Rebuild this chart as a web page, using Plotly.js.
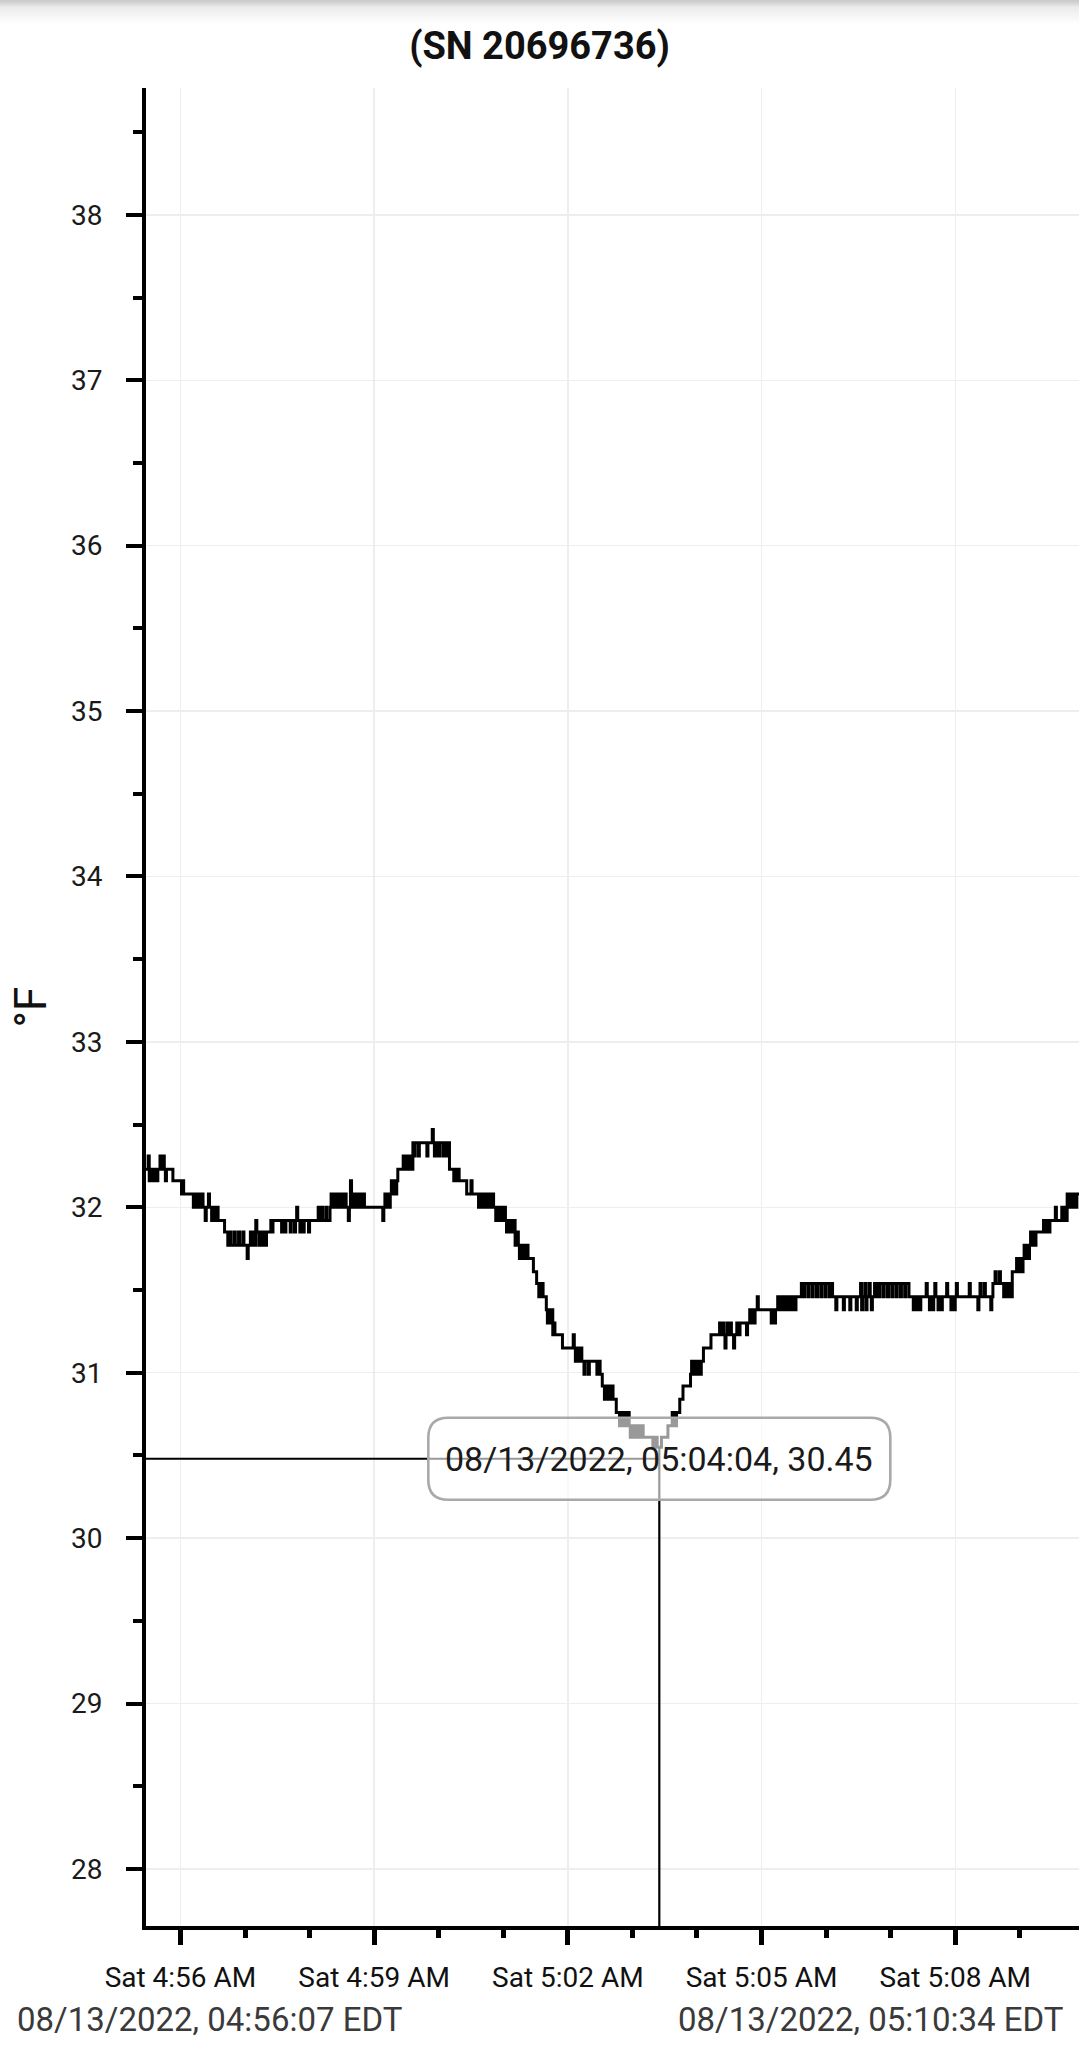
<!DOCTYPE html>
<html><head><meta charset="utf-8">
<script src="https://cdn.plot.ly/plotly-3.0.1.min.js"></script>
<style>
html,body{margin:0;padding:0;background:#fff;width:1079px;height:2055px;overflow:hidden}
#chart{width:1079px;height:2055px}
#shade{position:absolute;left:0;top:0;width:1079px;height:24px;background:linear-gradient(#c9c9c9 0px,#d4d4d4 3px,#ebebeb 7px,#ffffff 24px);pointer-events:none}
</style></head><body>
<div id="chart"></div><div id="shade"></div>
<script>
// ---- data ----
const chartTitle = '(SN 20696736)';
const yAxisTitle = '°F';
const startTime = '2022-08-13 04:56:07';
const endTime = '2022-08-13 05:10:34';
const startLabel = '08/13/2022, 04:56:07 EDT';
const endLabel = '08/13/2022, 05:10:34 EDT';
const xTickVals = ['2022-08-13 04:56:39','2022-08-13 04:59:39','2022-08-13 05:02:39','2022-08-13 05:05:39','2022-08-13 05:08:39'];
const xTickText = ['Sat 4:56 AM','Sat 4:59 AM','Sat 5:02 AM','Sat 5:05 AM','Sat 5:08 AM'];
const yTickVals = [28,29,30,31,32,33,34,35,36,37,38];
const yRange = [27.655, 38.767];
const hoverTime = '2022-08-13 05:04:04';
const hoverSecond = 477;
const hoverValue = 30.45;
const hoverText = '08/13/2022, 05:04:04, 30.45';
const crosshairY = 30.48;

// seconds after 04:56:07 (EDT) at which the reading changes
const secondsFromStart = [
0,2,3,5,6,8,9,11,13,14,
16,17,18,19,25,33,34,35,44,45,
47,48,50,52,53,55,56,58,59,61,
62,64,65,67,73,76,78,79,82,83,
86,87,90,91,94,95,97,98,100,101,
102,103,105,106,108,109,111,112,116,117,
118,126,127,129,130,134,135,138,139,140,
141,143,144,146,147,151,152,160,161,163,
164,167,168,171,172,173,175,176,178,179,
181,183,184,186,188,189,190,191,193,195,
197,199,201,203,220,221,222,223,225,226,
227,228,229,231,232,233,234,239,240,242,
243,245,247,248,249,250,253,254,261,262,
266,267,268,269,270,271,272,273,276,277,
279,280,282,286,287,289,290,291,298,302,
303,309,310,312,313,314,316,317,318,320,
321,323,325,326,328,329,331,332,334,335,
336,338,339,341,342,343,344,346,347,348,
350,351,353,354,355,360,363,365,366,367,
368,369,372,373,374,376,377,378,379,380,
387,397,398,399,400,402,403,405,407,408,
411,412,419,420,422,424,426,427,429,430,
432,433,434,437,440,441,443,444,446,447,
449,450,451,453,454,456,457,459,460,462,
471,473,475,479,485,489,490,491,492,493,
496,499,506,507,508,510,511,513,514,516,
518,525,533,534,536,537,538,539,540,541,
543,544,546,547,549,550,552,558,559,561,
562,564,565,566,568,569,581,582,584,585,
587,588,590,591,593,594,596,597,599,600,
602,603,604,609,611,612,615,616,619,620,
623,624,627,628,631,632,635,636,638,641,
642,648,649,654,655,660,661,664,665,666,
668,669,670,672,673,674,675,677,678,680,
681,682,685,686,689,690,693,694,697,698,
701,702,705,706,709,713,714,716,717,719,
720,725,726,728,729,731,732,733,734,736,
737,739,740,744,745,748,749,751,752,753,
754,765,766,773,774,775,776,779,780,785,
786,787,789,790,793,794,797,798,800,801,
803,805,809,810,812,813,815,816,817,819,
820,821,822,823,825,826,827,834,835,837,
838,840,845,846,851,852,853,854,856,857,
859,860,862,863,865,867
];

// temperature in °F from each of those seconds on
const tempF = [
32.23,32.31,32.16,32.23,32.16,32.23,32.16,32.23,32.31,32.23,
32.31,32.23,32.16,32.23,32.16,32.08,32.16,32.08,32.00,32.08,
32.00,32.08,32.00,32.08,32.00,31.92,32.00,32.08,32.00,31.92,
32.00,31.92,32.00,31.92,31.85,31.77,31.85,31.77,31.85,31.77,
31.85,31.77,31.85,31.77,31.69,31.77,31.85,31.77,31.85,31.77,
31.92,31.85,31.77,31.85,31.77,31.85,31.77,31.85,31.92,31.85,
31.92,31.85,31.92,31.85,31.92,31.85,31.92,31.85,31.92,32.00,
31.92,31.85,31.92,31.85,31.92,31.85,31.92,32.00,31.92,32.00,
31.92,32.00,31.92,32.00,32.08,32.00,32.08,32.00,32.08,32.00,
32.08,32.00,32.08,32.00,31.92,32.00,32.16,32.00,32.08,32.00,
32.08,32.00,32.08,32.00,31.92,32.00,32.08,32.00,32.08,32.00,
32.08,32.16,32.08,32.16,32.08,32.16,32.23,32.31,32.23,32.31,
32.23,32.31,32.23,32.39,32.31,32.39,32.31,32.39,32.31,32.39,
32.47,32.39,32.31,32.39,32.31,32.39,32.31,32.39,32.31,32.39,
32.31,32.39,32.23,32.16,32.23,32.16,32.23,32.16,32.08,32.16,
32.08,32.00,32.08,32.00,32.08,32.00,32.08,32.00,32.08,32.00,
32.08,32.00,31.92,32.00,31.92,32.00,31.92,32.00,31.92,31.85,
31.92,31.85,31.92,31.85,31.92,31.77,31.85,31.77,31.69,31.77,
31.69,31.77,31.69,31.77,31.69,31.61,31.54,31.46,31.54,31.46,
31.54,31.46,31.38,31.30,31.38,31.30,31.38,31.23,31.30,31.23,
31.15,31.23,31.15,31.07,31.15,31.07,31.15,31.07,30.99,31.07,
30.99,31.07,30.99,31.07,30.99,30.92,30.84,30.92,30.84,30.92,
30.84,30.92,30.84,30.76,30.68,30.76,30.68,30.76,30.68,30.76,
30.68,30.61,30.68,30.61,30.68,30.61,30.68,30.61,30.68,30.61,
30.55,30.61,30.55,30.61,30.68,30.76,30.68,30.76,30.68,30.76,
30.84,30.92,30.99,31.07,30.99,31.07,30.99,31.07,30.99,31.07,
31.15,31.23,31.30,31.23,31.30,31.23,31.15,31.23,31.30,31.23,
31.30,31.23,31.15,31.23,31.30,31.23,31.30,31.23,31.30,31.38,
31.30,31.38,31.30,31.38,31.46,31.38,31.30,31.38,31.30,31.38,
31.46,31.38,31.46,31.38,31.46,31.38,31.46,31.38,31.46,31.38,
31.46,31.38,31.46,31.54,31.46,31.54,31.46,31.54,31.46,31.54,
31.46,31.54,31.46,31.54,31.46,31.54,31.46,31.54,31.46,31.38,
31.46,31.38,31.46,31.38,31.46,31.38,31.46,31.54,31.38,31.46,
31.54,31.38,31.46,31.54,31.46,31.38,31.46,31.54,31.46,31.54,
31.46,31.54,31.46,31.54,31.46,31.54,31.46,31.54,31.46,31.54,
31.46,31.54,31.46,31.54,31.46,31.38,31.46,31.38,31.46,31.38,
31.46,31.54,31.46,31.38,31.46,31.38,31.46,31.54,31.46,31.38,
31.46,31.38,31.46,31.54,31.46,31.38,31.46,31.38,31.46,31.54,
31.46,31.54,31.46,31.38,31.46,31.54,31.46,31.54,31.46,31.38,
31.46,31.54,31.61,31.54,31.61,31.54,31.46,31.54,31.46,31.54,
31.46,31.61,31.69,31.61,31.69,31.61,31.69,31.77,31.69,31.77,
31.69,31.77,31.85,31.77,31.85,31.77,31.85,31.92,31.85,31.92,
31.85,31.92,32.00,31.92,32.00,31.92,32.00,31.92,32.08,32.00,
32.08,32.00,32.08,32.00,32.08,32.08
];

// ---- build ----
const baseMs = Date.UTC(2022, 7, 13, 4, 56, 7);
const xTimes = secondsFromStart.map(s => baseMs + s * 1000);

let hoverPointValue = tempF[0];
for (let i = 0; i < secondsFromStart.length; i++) {
  if (secondsFromStart[i] <= hoverSecond) hoverPointValue = tempF[i];
}

// page geometry (pixels)
const W = 1079, H = 2055;
const M = {l: 146, r: 0, t: 88, b: 129};
const plotW = W - M.l - M.r, plotH = H - M.t - M.b;
const px2paperX = px => (px - M.l) / plotW;
const px2paperY = py => (H - M.b - py) / plotH;

const FONT = 'Roboto, "Noto Sans", sans-serif';

const trace = {
  type: 'scatter', mode: 'lines',
  x: xTimes, y: tempF,
  line: {color: '#000000', width: 3, shape: 'hv'},
  hoverinfo: 'skip'
};

const w2 = 231, h2 = 41, r = 20;
const boxPath = `M ${-w2 + r},${-h2} L ${w2 - r},${-h2} Q ${w2},${-h2} ${w2},${-h2 + r} L ${w2},${h2 - r} Q ${w2},${h2} ${w2 - r},${h2} L ${-w2 + r},${h2} Q ${-w2},${h2} ${-w2},${h2 - r} L ${-w2},${-h2 + r} Q ${-w2},${-h2} ${-w2 + r},${-h2} Z`;

const layout = {
  width: W, height: H,
  margin: M,
  paper_bgcolor: '#ffffff', plot_bgcolor: '#ffffff',
  showlegend: false,
  hovermode: false,
  font: {family: FONT, color: '#111111'},
  title: {
    text: chartTitle,
    font: {family: FONT, size: 38, weight: 700, color: '#111111'},
    x: 0.5, xref: 'container', xanchor: 'center',
    y: 1 - 46 / H, yref: 'container', yanchor: 'middle'
  },
  xaxis: {
    type: 'date',
    range: [startTime, endTime],
    tickmode: 'array', tickvals: xTickVals, ticktext: xTickText,
    showline: true, linecolor: '#000000', linewidth: 4,
    ticks: 'outside', ticklen: 15, tickwidth: 5, tickcolor: '#000000',
    showgrid: true, gridcolor: '#eeeeee', gridwidth: 1.5,
    zeroline: false,
    tickfont: {family: FONT, size: 28, color: '#111111'},
    ticklabelstandoff: 8,
    minor: {tick0: '2022-08-13 04:56:39', dtick: 60000, ticks: 'outside', ticklen: 8, tickwidth: 5, tickcolor: '#000000', showgrid: false},
    fixedrange: true
  },
  yaxis: {
    range: yRange,
    tickmode: 'array', tickvals: yTickVals,
    showline: true, linecolor: '#000000', linewidth: 4,
    ticks: 'outside', ticklen: 16, tickwidth: 4, tickcolor: '#000000',
    showgrid: true, gridcolor: '#eeeeee', gridwidth: 1.5,
    zeroline: false,
    tickfont: {family: FONT, size: 28, color: '#1a1a1a'},
    ticklabelstandoff: 18,
    minor: {tick0: 0, dtick: 0.5, ticks: 'outside', ticklen: 9, tickwidth: 4, tickcolor: '#000000', showgrid: false},
    title: {text: yAxisTitle, font: {family: FONT, size: 44, color: '#111111'}, standoff: 12},
    fixedrange: true
  },
  shapes: [
    {type: 'line', layer: 'above', xref: 'x', yref: 'y', x0: startTime, x1: hoverTime, y0: crosshairY, y1: crosshairY, line: {color: '#000000', width: 2.2}},
    {type: 'line', layer: 'above', xref: 'x', yref: 'y', x0: hoverTime, x1: hoverTime, y0: yRange[0], y1: hoverPointValue, line: {color: '#000000', width: 2.2}},
    {type: 'path', layer: 'above', xref: 'x', yref: 'y',
     xsizemode: 'pixel', ysizemode: 'pixel', xanchor: hoverTime, yanchor: crosshairY,
     path: boxPath, fillcolor: 'rgba(255,255,255,0.6)', line: {color: '#a9a9a9', width: 2.6}}
  ],
  annotations: [
    {xref: 'x', yref: 'y', x: hoverTime, y: crosshairY, text: hoverText, showarrow: false,
     xanchor: 'center', yanchor: 'middle', font: {family: FONT, size: 34, color: '#1a1a1a'}},
    {xref: 'paper', yref: 'paper', x: px2paperX(15), y: px2paperY(2019), text: startLabel, showarrow: false,
     xanchor: 'left', yanchor: 'middle', font: {family: FONT, size: 33, color: '#3a3a3a'}},
    {xref: 'paper', yref: 'paper', x: px2paperX(1065), y: px2paperY(2019), text: endLabel, showarrow: false,
     xanchor: 'right', yanchor: 'middle', font: {family: FONT, size: 33, color: '#3a3a3a'}}
  ]
};

Plotly.newPlot('chart', [trace], layout, {displayModeBar: false, staticPlot: true});
</script>
</body></html>
